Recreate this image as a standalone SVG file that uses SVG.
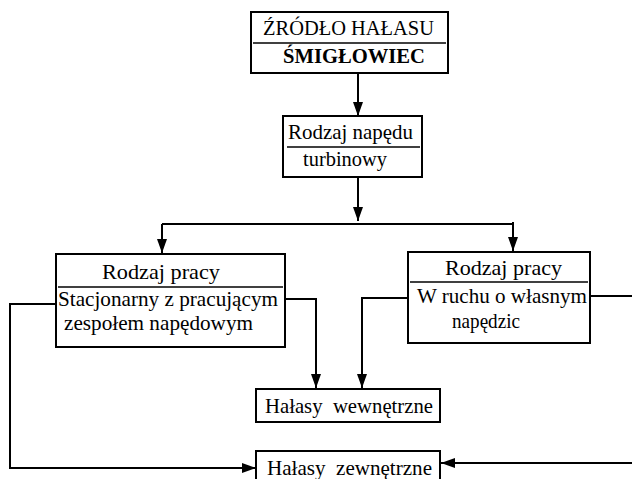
<svg xmlns="http://www.w3.org/2000/svg" width="632" height="479" viewBox="0 0 632 479">
  <defs>
    <marker id="arr" viewBox="0 0 14 10" refX="14" refY="5" markerWidth="14" markerHeight="10" markerUnits="userSpaceOnUse" orient="auto">
      <path d="M0,0 L14,5 L0,10 Z" fill="#000"/>
    </marker>
    <style>
      .box { fill: #fff; stroke: #000; stroke-width: 2; }
      .div { stroke: #000; stroke-width: 1.5; }
      .t { font-family: "Liberation Serif", "Times New Roman", serif; font-size: 21px; fill: #000; }
      .b { font-weight: bold; }
      .wire { fill: none; stroke: #000; stroke-width: 2; }
    </style>
  </defs>
  <rect width="632" height="479" fill="#fff"/>

  <g id="connectors">
    <path class="wire" d="M358,73 V116" marker-end="url(#arr)"/>
    <path class="wire" d="M358,177 V221" marker-end="url(#arr)"/>
    <path class="wire" d="M162,224 H513 M162,224 V253" marker-end="url(#arr)"/>
    <path class="wire" d="M513,222 V251" marker-end="url(#arr)"/>
    <path class="wire" d="M285,299 H316 V388" marker-end="url(#arr)"/>
    <path class="wire" d="M408,298 H362 V388" marker-end="url(#arr)"/>
    <path class="wire" d="M56,304 H10 V468 H256" marker-end="url(#arr)"/>
    <path class="wire" d="M590,296 H640 M640,463 H441" marker-end="url(#arr)"/>
  </g>

  <g id="source">
    <rect class="box" x="251" y="12" width="197" height="61" stroke-width="3"/>
    <line class="div" x1="253" y1="43" x2="446" y2="43"/>
    <text class="t" x="263" y="35" textLength="171" lengthAdjust="spacingAndGlyphs">ŹRÓDŁO HAŁASU</text>
    <text class="t b" x="283" y="63" textLength="142" lengthAdjust="spacingAndGlyphs">ŚMIGŁOWIEC</text>
  </g>

  <g id="drive">
    <rect class="box" x="283" y="116" width="139" height="61"/>
    <line class="div" x1="287" y1="147" x2="420" y2="147"/>
    <text class="t" x="288" y="139" textLength="125" lengthAdjust="spacingAndGlyphs">Rodzaj napędu</text>
    <text class="t" x="303" y="166" textLength="84" lengthAdjust="spacingAndGlyphs">turbinowy</text>
  </g>

  <g id="stationary">
    <rect class="box" x="56" y="254" width="229" height="93"/>
    <line class="div" x1="58" y1="287" x2="283" y2="287"/>
    <text class="t" x="102" y="279" textLength="118" lengthAdjust="spacingAndGlyphs">Rodzaj pracy</text>
    <text class="t" x="58" y="306" textLength="220" lengthAdjust="spacingAndGlyphs">Stacjonarny z pracującym</text>
    <text class="t" x="64" y="330" textLength="189" lengthAdjust="spacingAndGlyphs">zespołem napędowym</text>
  </g>

  <g id="moving">
    <rect class="box" x="408" y="252" width="182" height="91"/>
    <line class="div" x1="410" y1="282" x2="588" y2="282"/>
    <text class="t" x="445" y="275" textLength="117" lengthAdjust="spacingAndGlyphs">Rodzaj pracy</text>
    <text class="t" x="417" y="303" textLength="170" lengthAdjust="spacingAndGlyphs">W ruchu o własnym</text>
    <text class="t" x="452" y="328" textLength="68" lengthAdjust="spacingAndGlyphs">napędzic</text>
  </g>

  <g id="internal">
    <rect class="box" x="256" y="389" width="184" height="33"/>
    <text class="t" x="265" y="413" textLength="168" lengthAdjust="spacingAndGlyphs" xml:space="preserve">Hałasy  wewnętrzne</text>
  </g>

  <g id="external">
    <rect class="box" x="256" y="451" width="184" height="34"/>
    <text class="t" x="267" y="475" textLength="165" lengthAdjust="spacingAndGlyphs" xml:space="preserve">Hałasy  zewnętrzne</text>
  </g>
</svg>
